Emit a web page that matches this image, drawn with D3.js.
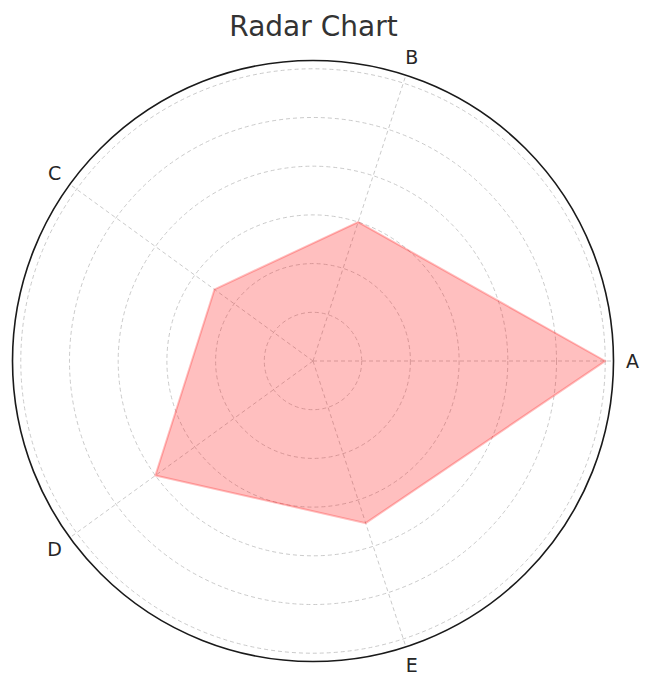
<!DOCTYPE html>
<html>
<head>
<meta charset="utf-8">
<script src="https://cdn.jsdelivr.net/npm/d3@7"></script>
<style>
  body { margin: 0; background: #fff; }
  text { font-family: "DejaVu Sans", sans-serif; }
</style>
</head>
<body>
<script>
// chart data
var categories = ["A", "B", "C", "D", "E"];
var values = [6, 3, 2.5, 4, 3.5];
var rTicks = [1, 2, 3, 4, 5, 6];

var width = 649, height = 683;
var cx = 313, cy = 361, outerR = 300.5;

var svg = d3.select("body").append("svg")
    .attr("width", width)
    .attr("height", height);

var r = d3.scaleLinear().domain([0, 6.17]).range([0, outerR]);
var angle = d3.scaleLinear().domain([0, categories.length]).range([0, 2 * Math.PI]);

function px(a, rad) { return cx + rad * Math.cos(a); }
function py(a, rad) { return cy - rad * Math.sin(a); }

// circular grid
svg.selectAll("circle.grid")
    .data(rTicks)
  .enter().append("circle")
    .attr("class", "grid")
    .attr("cx", cx)
    .attr("cy", cy)
    .attr("r", function(d) { return r(d); })
    .style("fill", "none")
    .style("stroke", "#c4c4c4")
    .style("stroke-width", 0.9)
    .style("stroke-dasharray", "4,3");

// spokes
svg.selectAll("line.spoke")
    .data(categories)
  .enter().append("line")
    .attr("class", "spoke")
    .attr("x1", cx)
    .attr("y1", cy)
    .attr("x2", function(d, i) { return px(angle(i), outerR); })
    .attr("y2", function(d, i) { return py(angle(i), outerR); })
    .style("stroke", "#c4c4c4")
    .style("stroke-width", 0.9)
    .style("stroke-dasharray", "4,3");

// data polygon
var line = d3.lineRadial()
    .angle(function(d, i) { return Math.PI / 2 - angle(i); })
    .radius(function(d) { return r(d); })
    .curve(d3.curveLinearClosed);

svg.append("path")
    .attr("transform", "translate(" + cx + "," + cy + ")")
    .attr("d", line(values))
    .style("fill", "red")
    .style("fill-opacity", 0.25)
    .style("stroke", "red")
    .style("stroke-opacity", 0.25)
    .style("stroke-width", 2);

// outer frame
svg.append("circle")
    .attr("cx", cx)
    .attr("cy", cy)
    .attr("r", outerR)
    .style("fill", "none")
    .style("stroke", "#1a1a1a")
    .style("stroke-width", 1.6);

// category labels
svg.selectAll("text.cat")
    .data(categories)
  .enter().append("text")
    .attr("class", "cat")
    .attr("x", function(d, i) { return px(angle(i), 319.5); })
    .attr("y", function(d, i) { return py(angle(i), 319.5); })
    .attr("text-anchor", "middle")
    .attr("dominant-baseline", "central")
    .style("font-size", "19px")
    .style("fill", "#262626")
    .text(function(d) { return d; });

// title
svg.append("text")
    .attr("x", 313.5)
    .attr("y", 36)
    .attr("text-anchor", "middle")
    .style("font-size", "28px")
    .style("fill", "#333")
    .text("Radar Chart");
</script>
</body>
</html>
